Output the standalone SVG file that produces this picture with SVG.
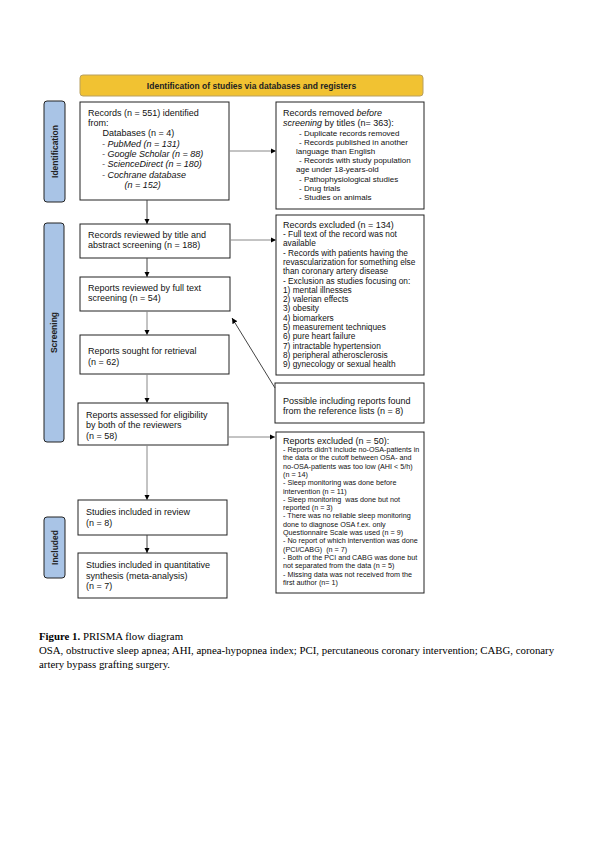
<svg xmlns="http://www.w3.org/2000/svg" width="595" height="842" viewBox="0 0 595 842">
<defs>
<marker id="ah" viewBox="0 0 10 10" refX="10" refY="5" markerWidth="5.5" markerHeight="5.5" orient="auto" markerUnits="userSpaceOnUse">
<path d="M0,0 L10,5 L0,10 z" fill="#000"/>
</marker>
<style>
.box{fill:#fff;stroke:#222;stroke-width:1}
.side{fill:#a9c4e6;stroke:#222;stroke-width:1}
.t{font-family:"Liberation Sans",Arial,sans-serif;font-size:9px;fill:#111}
.s8{font-size:8px}
.s83{font-size:8.3px}
.s7{font-size:7.2px}
.it{font-style:italic}
.lab{font-family:"Liberation Sans",Arial,sans-serif;font-size:8.5px;font-weight:bold;fill:#222}
.cap{font-family:"Liberation Serif","Times New Roman",serif;font-size:10.8px;fill:#000}
.ln{fill:none;stroke:#888;stroke-width:1}
.dk{stroke:#444}
</style>
</defs>
<rect width="595" height="842" fill="#fff"/>

<g id="banner">
<rect x="80" y="75" width="343" height="21" rx="3" fill="#f1c232" stroke="#b8a060" stroke-width="1"/>
<text class="lab" x="251.5" y="88.5" text-anchor="middle" font-size="8.7">Identification of studies via databases and registers</text>
</g>

<g id="label-identification">
<rect class="side" x="44" y="101" width="21" height="101" rx="3"/>
<text class="lab" transform="translate(57.5,151.5) rotate(-90)" text-anchor="middle">Identification</text>
</g>
<g id="label-screening">
<rect class="side" x="44" y="223" width="20" height="219" rx="3"/>
<text class="lab" transform="translate(57,332.5) rotate(-90)" text-anchor="middle">Screening</text>
</g>
<g id="label-included">
<rect class="side" x="44" y="517" width="21" height="61" rx="3"/>
<text class="lab" transform="translate(57.5,547.5) rotate(-90)" text-anchor="middle">Included</text>
</g>

<g id="records-identified">
<rect class="box" x="80" y="102" width="149" height="98"/>
<text class="t" x="88" y="116">Records (n = 551) identified</text>
<text class="t" x="88" y="125.5">from:</text>
<text class="t" x="102.5" y="136">Databases (n = 4)</text>
<text class="t it" x="102" y="146.5">- PubMed (n = 131)</text>
<text class="t it" x="102" y="156.5">- Google Scholar (n = 88)</text>
<text class="t it" x="102" y="167">- ScienceDirect (n = 180)</text>
<text class="t it" x="102" y="177.5">- Cochrane database</text>
<text class="t it" x="124.5" y="188">(n = 152)</text>
</g>

<g id="records-removed">
<rect class="box" x="276" y="102" width="148" height="107"/>
<text class="t" x="283" y="116">Records removed <tspan class="it">before</tspan></text>
<text class="t" x="283" y="126"><tspan class="it">screening</tspan> by titles (n= 363):</text>
<text class="t s8" x="299" y="136">- Duplicate records removed</text>
<text class="t s8" x="299" y="145">- Records published in another</text>
<text class="t s8" x="296" y="154">language than English</text>
<text class="t s8" x="299" y="163">- Records with study population</text>
<text class="t s8" x="296" y="172">age under 18-years-old</text>
<text class="t s8" x="299" y="182">- Pathophysiological studies</text>
<text class="t s8" x="299" y="191">- Drug trials</text>
<text class="t s8" x="299" y="200">- Studies on animals</text>
</g>

<g id="records-screened">
<rect class="box" x="80" y="224" width="150" height="34"/>
<text class="t" x="88" y="237.5">Records reviewed by title and</text>
<text class="t" x="88" y="247.5">abstract screening (n = 188)</text>
</g>

<g id="records-excluded">
<rect class="box" x="276" y="215" width="148" height="160"/>
<text class="t" x="283" y="227.5">Records excluded (n = 134)</text>
<text class="t s83" x="283" y="237">- Full text of the record was not</text>
<text class="t s83" x="283" y="246.3">available</text>
<text class="t s83" x="283" y="255.6">- Records with patients having the</text>
<text class="t s83" x="283" y="264.9">revascularization for something else</text>
<text class="t s83" x="283" y="274.2">than coronary artery disease</text>
<text class="t s83" x="283" y="283.5">- Exclusion as studies focusing on:</text>
<text class="t s83" x="283" y="292.8">1) mental illnesses</text>
<text class="t s83" x="283" y="302.1">2) valerian effects</text>
<text class="t s83" x="283" y="311.4">3) obesity</text>
<text class="t s83" x="283" y="320.7">4) biomarkers</text>
<text class="t s83" x="283" y="330">5) measurement techniques</text>
<text class="t s83" x="283" y="339.3">6) pure heart failure</text>
<text class="t s83" x="283" y="348.6">7) intractable hypertension</text>
<text class="t s83" x="283" y="357.9">8) peripheral atherosclerosis</text>
<text class="t s83" x="283" y="367.2">9) gynecology or sexual health</text>
</g>

<g id="reports-fulltext">
<rect class="box" x="80" y="277" width="150" height="34"/>
<text class="t" x="88" y="290.5">Reports reviewed by full text</text>
<text class="t" x="88" y="300.5">screening (n = 54)</text>
</g>

<g id="reports-sought">
<rect class="box" x="80" y="335" width="149" height="39"/>
<text class="t" x="88" y="354">Reports sought for retrieval</text>
<text class="t" x="88" y="365">(n = 62)</text>
</g>

<g id="reports-other">
<rect class="box" x="275" y="383" width="149" height="40"/>
<text class="t" x="283" y="404">Possible including reports found</text>
<text class="t" x="283" y="414">from the reference lists (n = 8)</text>
</g>

<g id="reports-assessed">
<rect class="box" x="78" y="403" width="150" height="42"/>
<text class="t" x="86" y="418">Reports assessed for eligibility</text>
<text class="t" x="86" y="428">by both of the reviewers</text>
<text class="t" x="86" y="439">(n = 58)</text>
</g>

<g id="reports-excluded">
<rect class="box" x="276" y="432" width="148" height="161"/>
<text class="t" x="283" y="443.5">Reports excluded (n = 50):</text>
<text class="t s7" x="283" y="452">- Reports didn’t include no-OSA-patients in</text>
<text class="t s7" x="283" y="460.3">the data or the cutoff between OSA- and</text>
<text class="t s7" x="283" y="468.6">no-OSA-patients was too low (AHI &lt; 5/h)</text>
<text class="t s7" x="283" y="476.9">(n = 14)</text>
<text class="t s7" x="283" y="485.2">- Sleep monitoring was done before</text>
<text class="t s7" x="283" y="493.5">intervention (n = 11)</text>
<text class="t s7" x="283" y="501.8" xml:space="preserve">- Sleep monitoring  was done but not</text>
<text class="t s7" x="283" y="510.1">reported (n = 3)</text>
<text class="t s7" x="283" y="518.4">- There was no reliable sleep monitoring</text>
<text class="t s7" x="283" y="526.7">done to diagnose OSA f.ex. only</text>
<text class="t s7" x="283" y="535">Questionnaire Scale was used (n = 9)</text>
<text class="t s7" x="283" y="543.3">- No report of which intervention was done</text>
<text class="t s7" x="283" y="551.6" xml:space="preserve">(PCI/CABG)  (n = 7)</text>
<text class="t s7" x="283" y="559.9">- Both of the PCI and CABG was done but</text>
<text class="t s7" x="283" y="568.2">not separated from the data (n = 5)</text>
<text class="t s7" x="283" y="576.5">- Missing data was not received from the</text>
<text class="t s7" x="283" y="584.8">first author (n= 1)</text>
</g>

<g id="studies-included">
<rect class="box" x="78" y="500" width="149" height="35"/>
<text class="t" x="86" y="515">Studies included in review</text>
<text class="t" x="86" y="525.5">(n = 8)</text>
</g>

<g id="studies-meta">
<rect class="box" x="78" y="553" width="149" height="45"/>
<text class="t" x="86" y="568">Studies included in quantitative</text>
<text class="t" x="86" y="578.5">synthesis (meta-analysis)</text>
<text class="t" x="86" y="589">(n = 7)</text>
</g>

<g id="connectors">
<line class="ln dk" x1="147" y1="200" x2="147" y2="224" marker-end="url(#ah)"/>
<line class="ln dk" x1="147" y1="258" x2="147" y2="277" marker-end="url(#ah)"/>
<line class="ln" x1="147" y1="311" x2="147" y2="335" marker-end="url(#ah)"/>
<line class="ln" x1="147" y1="374" x2="147" y2="403" marker-end="url(#ah)"/>
<line class="ln" x1="147" y1="445" x2="147" y2="500" marker-end="url(#ah)"/>
<line class="ln dk" x1="147" y1="535" x2="147" y2="553" marker-end="url(#ah)"/>
<line class="ln" x1="229" y1="151" x2="276" y2="151" marker-end="url(#ah)"/>
<line class="ln" x1="230" y1="240" x2="276" y2="240" marker-end="url(#ah)"/>
<line class="ln" x1="228" y1="437" x2="275" y2="437" marker-end="url(#ah)"/>
<line class="ln dk" x1="275" y1="388" x2="232" y2="318" marker-end="url(#ah)"/>
</g>

<g id="caption">
<text class="cap" x="39" y="640"><tspan font-weight="bold">Figure 1.</tspan> PRISMA flow diagram</text>
<text class="cap" x="39" y="654">OSA, obstructive sleep apnea; AHI, apnea-hypopnea index; PCI, percutaneous coronary intervention; CABG, coronary</text>
<text class="cap" x="39" y="668">artery bypass grafting surgery.</text>
</g>
</svg>
